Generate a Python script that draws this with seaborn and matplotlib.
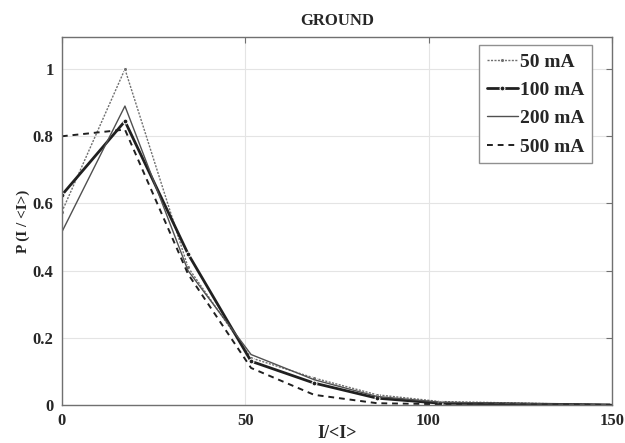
import numpy as np
import pandas as pd
import matplotlib
matplotlib.use("Agg")
import matplotlib.pyplot as plt
import seaborn as sns

# -----------------------------------
# Data
# -----------------------------------

x_vals = [0, 17.2, 34.4, 51.6, 68.8, 86.0, 103.2, 150]

p_50 = [0.575, 1.0, 0.41, 0.14, 0.08, 0.03, 0.01, 0.0]
p_100 = [0.625, 0.845, 0.45, 0.13, 0.065, 0.02, 0.005, 0.0]
p_200 = [0.515, 0.89, 0.40, 0.15, 0.075, 0.025, 0.008, 0.0]
p_500 = [0.80, 0.82, 0.39, 0.11, 0.03, 0.005, 0.002, 0.0]

labels = ["50 mA", "100 mA", "200 mA", "500 mA"]

# -----------------------------------
# Style
# -----------------------------------

sns.set_style("whitegrid")
plt.rcParams["font.family"] = ["Liberation Serif", "DejaVu Serif"]
plt.rcParams["font.weight"] = "bold"

fig = plt.figure(figsize=(6.25, 4.43), dpi=100)
ax = fig.add_axes([0.099, 0.086, 0.88, 0.830])

styles = [
    dict(color="#707070", linestyle=(0, (1.5, 1.0)), linewidth=1.0, marker="o", markersize=3),
    dict(color="#202020", linestyle="-", linewidth=2.0, marker="o", markersize=3.5),
    dict(color="#505050", linestyle="-", linewidth=1.0, marker=None),
    dict(color="#202020", linestyle=(0, (3, 2.5)), linewidth=1.4, marker=None),
]

for series, lab, st in zip([p_50, p_100, p_200, p_500], labels, styles):
    df = pd.DataFrame({"x": x_vals, "p": series})
    sns.lineplot(data=df, x="x", y="p", ax=ax, label=lab, **st)

# -----------------------------------
# Axes
# -----------------------------------

ax.set_xlim(0, 150)
ax.set_ylim(0, 1.095)
ax.set_xticks([0, 50, 100, 150])
ax.set_yticks([0, 0.2, 0.4, 0.6, 0.8, 1.0])
ax.set_yticklabels(["0", "0.2", "0.4", "0.6", "0.8", "1"])

ax.grid(True, color="#e4e4e4", linewidth=0.8)
for spine in ax.spines.values():
    spine.set_visible(True)
    spine.set_color("#707070")
    spine.set_linewidth(1.0)

ax.tick_params(axis="both", labelsize=12, length=4, direction="in",
               color="#707070", top=True, right=True, pad=6)
for lbl in ax.get_xticklabels() + ax.get_yticklabels():
    lbl.set_fontweight("bold")

ax.set_title("GROUND", fontsize=12, fontweight="bold", pad=9)
ax.set_xlabel("I/<I>", fontsize=13, fontweight="bold", labelpad=-3)
ax.set_ylabel("P (I / <I>)", fontsize=11, fontweight="bold", labelpad=2)

leg = ax.legend(loc="upper right", bbox_to_anchor=(0.964, 0.978),
                borderaxespad=0,
                prop={"size": 14, "weight": "bold"}, handlelength=1.6,
                handletextpad=0.1, labelspacing=0.55, borderpad=0.4,
                fancybox=False, framealpha=1)
leg.get_frame().set_edgecolor("#909090")
leg.get_frame().set_linewidth(1.0)

plt.savefig("out.png", dpi=100)
plt.close()
